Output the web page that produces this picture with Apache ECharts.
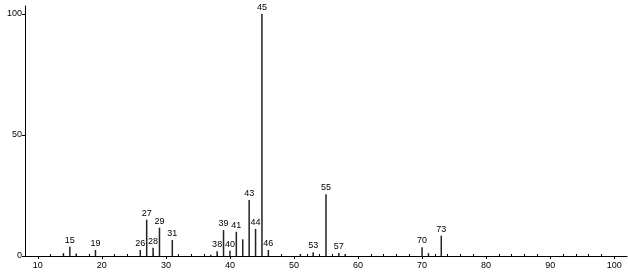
<!DOCTYPE html>
<html>
<head>
<meta charset="utf-8">
<script src="https://cdn.jsdelivr.net/npm/echarts@6/dist/echarts.min.js"></script>
<style>html,body{margin:0;padding:0;background:#fff}#c{width:628px;height:273px}</style>
</head>
<body>
<div id="c"></div>
<script>
const mz        = [14, 15, 16, 19, 26, 27, 28, 29, 31, 37, 38, 39, 40, 41, 42, 43, 44, 45, 46, 51, 53, 55, 57, 58, 70, 71, 73];
const intensity = [1.2, 3.8, 1.0, 2.5, 2.5, 15.0, 3.4, 11.7, 6.6, 0.5, 2.0, 10.7, 2.2, 10.0, 6.9, 23.1, 11.2, 100, 2.5, 0.8, 1.6, 25.5, 1.2, 0.8, 3.6, 1.2, 8.4];
const labeledMz = [15, 19, 26, 27, 28, 29, 31, 38, 39, 40, 41, 43, 44, 45, 46, 53, 55, 57, 70, 73];
const xTickLabels = [10, 20, 30, 40, 50, 60, 70, 80, 90, 100];
const xMinorTicks = [12, 14, 16, 18, 22, 24, 26, 28, 32, 34, 36, 38, 42, 44, 46, 48, 52, 54, 56, 58, 62, 64, 66, 68, 72, 74, 76, 78, 82, 84, 86, 88, 92, 94, 96, 98];
const yTickLabels = [0, 50, 100];

const font = 'Liberation Sans';
const chart = echarts.init(document.getElementById('c'), null, {renderer: 'canvas'});
chart.setOption({
  animation: false,
  grid: {left: 25, right: 1, top: 6, bottom: 17, containLabel: false},
  xAxis: [{
    type: 'value', min: 8, max: 102,
    axisLine: {show: true, lineStyle: {color: '#000', width: 1}},
    axisTick: {show: true, length: 3, customValues: xTickLabels, lineStyle: {color: '#000'}},
    axisLabel: {customValues: xTickLabels, color: '#000', fontSize: 9, fontFamily: font, margin: 5},
    splitLine: {show: false}
  }, {
    type: 'value', min: 8, max: 102, position: 'bottom',
    axisLine: {show: false},
    axisTick: {show: true, length: 2, inside: true, customValues: xMinorTicks, lineStyle: {color: '#000'}},
    axisLabel: {show: false},
    splitLine: {show: false}
  }, {
    type: 'value', min: 8, max: 102, position: 'bottom',
    axisLine: {show: false},
    axisTick: {show: true, length: 1, customValues: xMinorTicks, lineStyle: {color: '#000'}},
    axisLabel: {show: false},
    splitLine: {show: false}
  }],
  yAxis: {
    type: 'value', min: 0, max: 103.3,
    axisLine: {show: true, lineStyle: {color: '#000', width: 1}},
    axisTick: {show: true, length: 3, customValues: yTickLabels, lineStyle: {color: '#000'}},
    axisLabel: {customValues: yTickLabels, color: '#000', fontSize: 9, fontFamily: font, margin: 3},
    splitLine: {show: false}
  },
  series: [{
    type: 'bar',
    barWidth: 1.5,
    itemStyle: {color: '#222'},
    data: mz.map((m, i) => ({
      value: [m, intensity[i]],
      label: {
        show: labeledMz.includes(m),
        position: 'top',
        distance: 2,
        formatter: String(m),
        color: '#000',
        fontSize: 9,
        fontFamily: font
      }
    }))
  }]
});
</script>
</body>
</html>
